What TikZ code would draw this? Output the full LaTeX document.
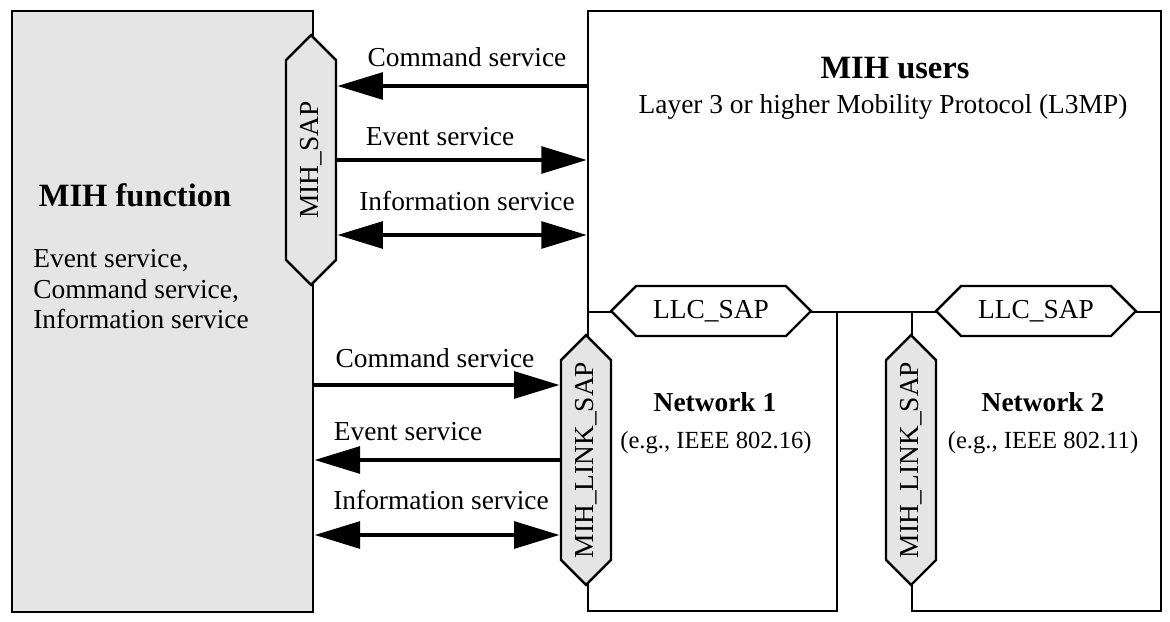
\documentclass[tikz,border=0pt]{standalone}
\usepackage{fontspec}
\setmainfont{Liberation Serif}
\usepackage{xcolor}
\usepackage{tikz}
\usetikzlibrary{arrows.meta, positioning, shapes.symbols}
\definecolor{mihgray}{RGB}{229,229,229}

\begin{document}
\begin{tikzpicture}[x=0.02cm, y=-0.02cm,
  every node/.style={font=\fontsize{15.6}{17.4}\selectfont},
  box/.style={draw, line width=1.4pt, inner sep=0pt, anchor=north west},
  sap/.style={draw, line width=1.4pt, shape=signal, signal to=west and east, signal pointer angle=90, minimum height=1cm, inner sep=0pt},
  vsap/.style={sap, rotate=90, fill=mihgray, minimum width=5cm},
  head/.style={font=\fontsize{18.5}{22}\selectfont\bfseries},
  nethead/.style={font=\fontsize{15.6}{18}\selectfont\bfseries},
  nettext/.style={font=\fontsize{14}{16}\selectfont},
  svc/.style={line width=2.8pt, >={Triangle[length=26pt, width=15pt]}}]
\useasboundingbox (0,0) rectangle (1170,622);

% Boxes
\node[box, fill=mihgray, minimum width=6.02cm, minimum height=12.02cm] (mihf) at (11,10) {};
\node[box, minimum width=11.46cm, minimum height=6.02cm] (users) at (587,10) {};
\node[box, minimum width=4.98cm, minimum height=5.98cm] (net1) at (587,311) {};
\node[box, minimum width=4.98cm, minimum height=5.98cm] (net2) at (911,311) {};

% Access points
\node[vsap] (mihsap) at (311,160) {MIH\_SAP};
\node[sap, fill=white, minimum width=4cm] (llc1) at (711,311) {LLC\_SAP};
\node[sap, fill=white, minimum width=4cm] (llc2) at (1036,311) {LLC\_SAP};
\node[vsap] (link1) at (586,460) {MIH\_LINK\_SAP};
\node[vsap] (link2) at (911,460) {MIH\_LINK\_SAP};

% Texts
\node[head] (mihftitle) at (135,195) {MIH function};
\node[align=left, anchor=north west, inner sep=0pt] (mihflist) at (33,249) {Event service,\\Command service,\\Information service};
\node[head] (userstitle) at (895,68) {MIH users};
\node (userstext) at (883,107) {Layer 3 or higher Mobility Protocol (L3MP)};
\node[nethead] (net1title) at (715,402) {Network 1};
\node[nettext] (net1text) at (716,443) {(e.g., IEEE 802.16)};
\node[nethead] (net2title) at (1043,402) {Network 2};
\node[nettext] (net2text) at (1043,443) {(e.g., IEEE 802.11)};

% Arrows
\coordinate (cmdA) at (0,86);
\coordinate (evtA) at (0,160);
\coordinate (infA) at (0,235);
\coordinate (cmdB) at (0,385);
\coordinate (evtB) at (0,460);
\coordinate (infB) at (0,535);

\draw[svc, <-] (mihsap.south |- cmdA) -- (users.west |- cmdA);
\draw[svc, ->] (mihsap.south |- evtA) -- (users.west |- evtA);
\draw[svc, <->] (mihsap.south |- infA) -- (users.west |- infA);
\draw[svc, ->] (mihf.east |- cmdB) -- (link1.north |- cmdB);
\draw[svc, <-] (mihf.east |- evtB) -- (link1.north |- evtB);
\draw[svc, <->] (mihf.east |- infB) -- (link1.north |- infB);

\node (cmdAtext) at (467,57) {Command service};
\node (evtAtext) at (440,137) {Event service};
\node (infAtext) at (467,201) {Information service};
\node (cmdBtext) at (435,358) {Command service};
\node (evtBtext) at (408,432) {Event service};
\node (infBtext) at (441,500) {Information service};

\end{tikzpicture}
\end{document}
